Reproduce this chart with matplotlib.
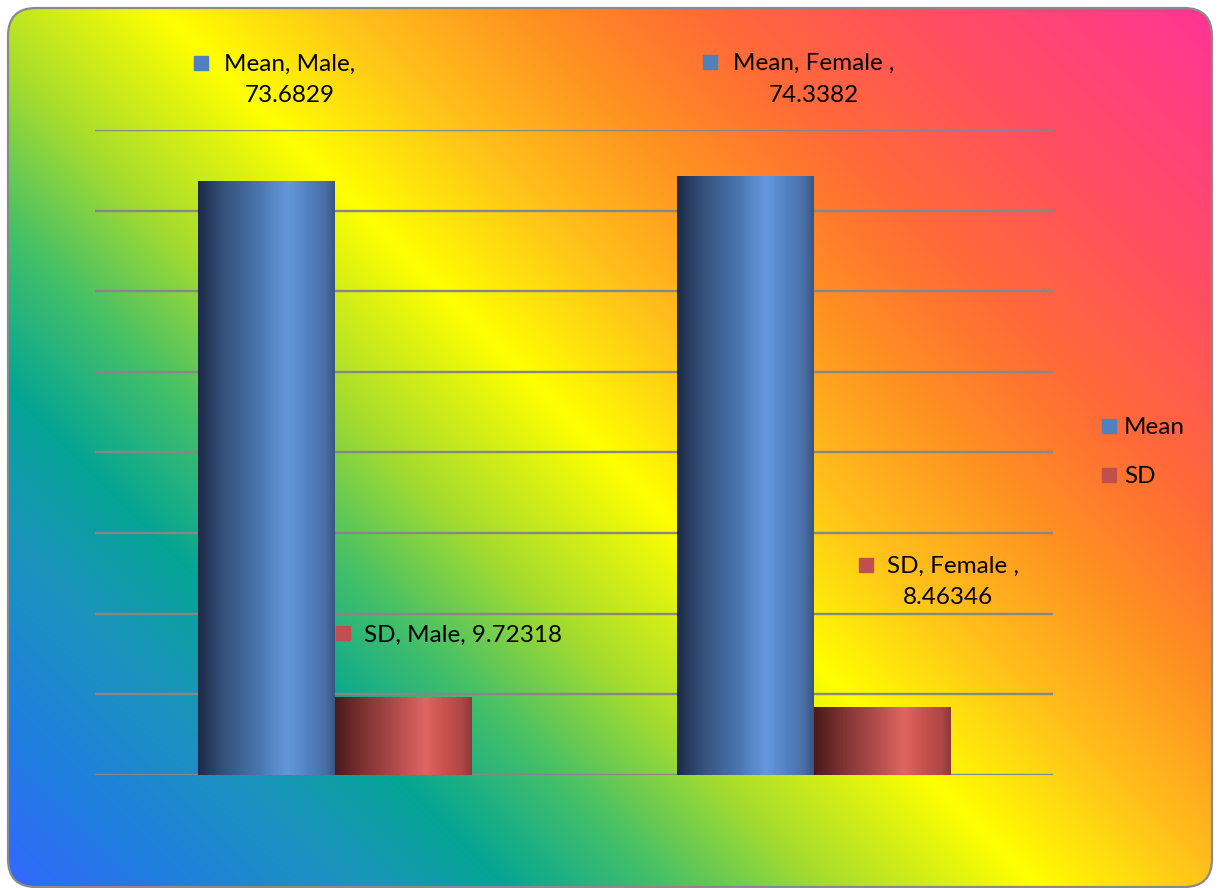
import numpy as np
import matplotlib
matplotlib.use('Agg')
import matplotlib.pyplot as plt
from matplotlib.patches import FancyBboxPatch, Rectangle
from matplotlib.colors import to_rgb

# data
groups = ['Male', 'Female']
series = ['Mean', 'SD']
mean_vals = [73.6829, 74.3382]
sd_vals = [9.72318, 8.46346]
grid_vals = [0, 10, 20, 30, 40, 50, 60, 70, 80]

W, H = 1219, 888
plt.rcParams['font.family'] = ['Lato', 'DejaVu Sans']
fig = plt.figure(figsize=(W / 100, H / 100), dpi=100)


def fx(x):
    return x / W


def fy(y):
    return 1 - y / H


def ramp(stops, t):
    pos = [s[0] for s in stops]
    cols = np.array([to_rgb(s[1]) for s in stops])
    return np.stack([np.interp(t, pos, cols[:, k]) for k in range(3)], axis=-1)


# background with diagonal gradient inside a rounded frame
bg = fig.add_axes([0, 0, 1, 1], zorder=0)
bg.set_xlim(0, W)
bg.set_ylim(H, 0)
bg.axis('off')
xx, yy = np.meshgrid(np.arange(W), np.arange(H))
t = (xx - yy).astype(float)
bg_stops = [(-888, '#3366ff'), (-700, '#1f80dd'), (-520, '#1a95bb'),
            (-380, '#04a595'), (-220, '#45c068'), (-60, '#a6dc2e'),
            (150, '#ffff00'), (330, '#ffc21a'), (520, '#ff8f22'),
            (680, '#ff6c35'), (900, '#ff4f60'), (1219, '#ff3399')]
img = ramp(bg_stops, t)
frame = FancyBboxPatch((8, 8), 1204, 879, boxstyle='round,pad=0,rounding_size=28',
                       transform=bg.transData, facecolor='none',
                       edgecolor='#8a8a8a', lw=1.6, zorder=3)
bg.add_patch(frame)
im = bg.imshow(img, extent=(0, W, H, 0), aspect='auto', zorder=1)
im.set_clip_path(frame)
bg.set_xlim(0, W)
bg.set_ylim(H, 0)

# plot area
ax = fig.add_axes([fx(95), fy(775), fx(1053) - fx(95), fy(130) - fy(775)], zorder=1)
ax.set_facecolor('none')
for v in grid_vals:
    ax.axhline(v, color='#878787', lw=1.7, zorder=1)

x = np.arange(len(groups))
w = 0.284
blue_stops = [(0, '#1d2b47'), (0.2, '#36547f'), (0.45, '#4a76b0'), (0.55, '#5788c8'),
              (0.66, '#6598da'), (0.8, '#5282c2'), (0.93, '#4a6fa6'), (1.0, '#3a5582')]
red_stops = [(0, '#4a1a1a'), (0.2, '#7c3232'), (0.45, '#b24c4a'), (0.55, '#c85856'),
             (0.66, '#df6662'), (0.8, '#c8524e'), (0.93, '#b04646'), (1.0, '#8c3a3a')]
prof = np.linspace(0, 1, 200)
for vals, off, stops in [(mean_vals, -w / 2, blue_stops), (sd_vals, w / 2, red_stops)]:
    bars = ax.bar(x + off, vals, w, color='none', zorder=2)
    shade = ramp(stops, prof)[None, :, :]
    for b in bars:
        x0, y0 = b.get_x(), b.get_y()
        gi = ax.imshow(shade, extent=(x0, x0 + b.get_width(), y0, y0 + b.get_height()),
                       aspect='auto', zorder=2, interpolation='bilinear')
        gi.set_clip_path(b)

ax.set_xlim(-0.5, 1.5)
ax.set_ylim(0, 80)
ax.set_xticks([])
ax.set_yticks([])
for s in ax.spines.values():
    s.set_visible(False)

# data labels and legend
blue, red = '#4f81bd', '#c0504d'
fs = 17.5


def square(xc, yc, col):
    fig.add_artist(Rectangle((fx(xc - 7), fy(yc + 7)), 14 / W, 14 / H,
                             transform=fig.transFigure, color=col, zorder=5))


def label(xc, yc, s, ha='center'):
    fig.text(fx(xc), fy(yc), s, ha=ha, va='center', fontsize=fs, color='black', zorder=5)


square(201, 63, blue)
label(290, 64, f'{series[0]}, {groups[0]},')
label(290, 96, f'{mean_vals[0]}')

square(710, 62, blue)
label(814, 63, f'{series[0]}, {groups[1]} ,')
label(814, 95, f'{mean_vals[1]}')

square(343, 633, red)
label(364, 635, f'{series[1]}, {groups[0]}, {sd_vals[0]}', ha='left')

square(866, 565, red)
label(953, 566, f'{series[1]}, {groups[1]} ,')
label(948, 598, f'{sd_vals[1]}')

square(1109, 426, blue)
label(1124, 427, series[0], ha='left')
square(1109, 475, red)
label(1124, 476, series[1], ha='left')

fig.savefig('out.png', dpi=100)
